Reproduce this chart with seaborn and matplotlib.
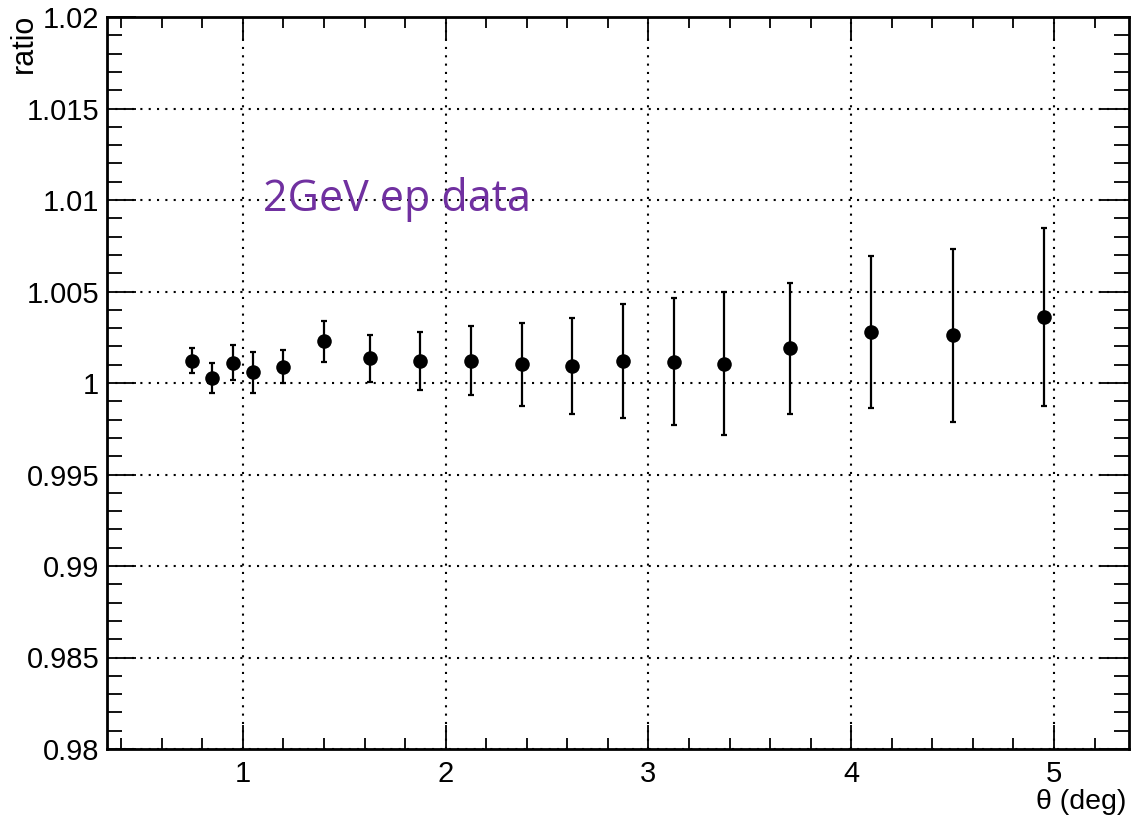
import matplotlib
matplotlib.use("Agg")
import matplotlib.pyplot as plt
import seaborn as sns
import numpy as np
import pandas as pd
from matplotlib.ticker import MultipleLocator

theta = [0.75, 0.85, 0.95, 1.05, 1.2, 1.4, 1.625, 1.875, 2.125, 2.375, 2.625,
         2.875, 3.125, 3.375, 3.7, 4.1, 4.5, 4.95]
ratio = [1.00122, 1.00027, 1.00111, 1.00060, 1.00089, 1.00228, 1.00135, 1.00120,
         1.00122, 1.00102, 1.00093, 1.00120, 1.00115, 1.00106, 1.00191, 1.00279,
         1.00261, 1.00359]
err = [0.00069, 0.00082, 0.00097, 0.00112, 0.00091, 0.00113, 0.00128, 0.00160,
       0.00190, 0.00228, 0.00263, 0.00309, 0.00347, 0.00391, 0.00358, 0.00417,
       0.00473, 0.00487]

df = pd.DataFrame({"theta": theta, "ratio": ratio, "err": err})

sns.set_theme(style="white")
plt.rcParams["font.family"] = ["Liberation Sans", "DejaVu Sans"]
plt.rcParams["text.color"] = "black"

fig = plt.figure(figsize=(11.35, 8.19), dpi=100)
ax = fig.add_axes([107/1135, 1-749/819, (1129-107)/1135, (749-17)/819])

ax.errorbar(df["theta"], df["ratio"], yerr=df["err"], fmt="none", ecolor="black",
            elinewidth=1.6, capsize=2.5, capthick=1.6, zorder=2)
sns.scatterplot(data=df, x="theta", y="ratio", ax=ax, color="black", s=110,
                edgecolor="black", linewidth=0, zorder=3, legend=False)

ax.set_xlim(0.33, 5.37)
ax.set_ylim(0.98, 1.02)
ax.xaxis.set_minor_locator(MultipleLocator(0.2))
ax.yaxis.set_minor_locator(MultipleLocator(0.001))
ax.set_yticks([0.98, 0.985, 0.99, 0.995, 1.0, 1.005, 1.01, 1.015, 1.02])
ax.set_yticklabels(["0.98", "0.985", "0.99", "0.995", "1", "1.005", "1.01", "1.015", "1.02"])
ax.set_xticks([1, 2, 3, 4, 5])
ax.set_xticklabels(["1", "2", "3", "4", "5"])

ax.grid(True, which="major", color="black", linestyle=(0, (1, 3)), linewidth=1.5)
ax.tick_params(which="both", direction="in", top=True, right=True, bottom=True, left=True,
               colors="black", labelcolor="black", labelsize=21)
ax.tick_params(axis="y", which="major", length=21, width=1.3, pad=5.5)
ax.tick_params(axis="y", which="minor", length=11, width=1.3)
ax.tick_params(axis="x", which="major", length=17, width=1.3, pad=8)
ax.tick_params(axis="x", which="minor", length=8, width=1.3)
for s in ax.spines.values():
    s.set_color("black")
    s.set_linewidth(2)
ax.set_xlabel("")
ax.set_ylabel("")

fig.text(24/1135, 1-14/819, "ratio", rotation=90, ha="center", va="top",
         fontsize=22, color="black")
fig.text(1126/1135, 1-802/819, "\u03b8 (deg)", ha="right", va="center",
         fontsize=20.5, color="black")

ax.text(1.10, 1.0094, "2GeV ep data", color="#7030A0", fontsize=31,
        family=["Open Sans", "DejaVu Sans"], ha="left", va="baseline")

fig.savefig("out.png", dpi=100, facecolor="white")
